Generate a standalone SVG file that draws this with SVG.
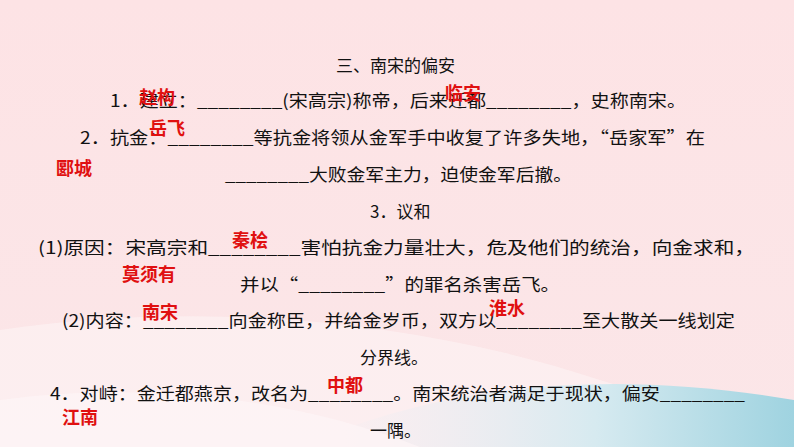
<svg xmlns="http://www.w3.org/2000/svg" width="794" height="447" viewBox="0 0 794 447">
<defs>
<linearGradient id="bg" x1="0" y1="0" x2="0" y2="1"><stop offset="0" stop-color="#fde3e5"/><stop offset="1" stop-color="#fbe6e8"/></linearGradient>
<linearGradient id="blue" x1="0" y1="0" x2="1" y2="0"><stop offset="0" stop-color="#f3eef3" stop-opacity="0"/><stop offset="0.6" stop-color="#d6eaf0"/><stop offset="1" stop-color="#9fd3e0"/></linearGradient>
</defs>
<style>
.t{font-family:"Noto Sans CJK SC","Noto Sans",sans-serif;font-size:17px;fill:#111}
.a{font-family:"Noto Sans CJK SC",sans-serif;font-size:18px;font-weight:bold;fill:#e01010}
</style>
<rect width="794" height="447" fill="url(#bg)"/>
<path d="M0 330 C200 300 420 320 600 380 C680 405 740 420 794 420 L794 447 L0 447 Z" fill="#fdf0f1" opacity="0.8"/>
<path d="M300 447 C450 380 620 370 794 400 L794 447 Z" fill="url(#blue)"/>
<path d="M0 400 C150 380 300 400 420 447 L0 447 Z" fill="#fdf5f6" opacity="0.7"/>
<g id="text">
<text class="t" x="336" y="72">三、南宋的偏安</text>
<text class="t" x="110" y="107" textLength="576" lengthAdjust="spacingAndGlyphs">1．建立：________(宋高宗)称帝，后来迁都________，史称南宋。</text>
<text class="t" x="80" y="144" textLength="625" lengthAdjust="spacingAndGlyphs">2．抗金：________等抗金将领从金军手中收复了许多失地，“岳家军”在</text>
<text class="t" x="225" y="181" textLength="347" lengthAdjust="spacingAndGlyphs">________大败金军主力，迫使金军后撤。</text>
<text class="t" x="370" y="218">3．议和</text>
<text class="t" x="38" y="254" textLength="717" lengthAdjust="spacingAndGlyphs">(1)原因：宋高宗和________害怕抗金力量壮大，危及他们的统治，向金求和，</text>
<text class="t" x="240" y="291" textLength="320" lengthAdjust="spacingAndGlyphs">并以“________”的罪名杀害岳飞。</text>
<text class="t" x="62" y="327" textLength="673" lengthAdjust="spacingAndGlyphs">(2)内容：________向金称臣，并给金岁币，双方以________至大散关一线划定</text>
<text class="t" x="360" y="364">分界线。</text>
<text class="t" x="50" y="400" textLength="695" lengthAdjust="spacingAndGlyphs">4．对峙：金迁都燕京，改名为________。南宋统治者满足于现状，偏安________</text>
<text class="t" x="370" y="437">一隅。</text>
</g>
<g id="answers">
<text class="a" x="139" y="104">赵构</text>
<text class="a" x="445" y="100">临安</text>
<text class="a" x="149" y="135">岳飞</text>
<text class="a" x="56" y="175">郾城</text>
<text class="a" x="232" y="247">秦桧</text>
<text class="a" x="122" y="281">莫须有</text>
<text class="a" x="142" y="319">南宋</text>
<text class="a" x="489" y="315">淮水</text>
<text class="a" x="327" y="392">中都</text>
<text class="a" x="62" y="424">江南</text>
</g>
</svg>
